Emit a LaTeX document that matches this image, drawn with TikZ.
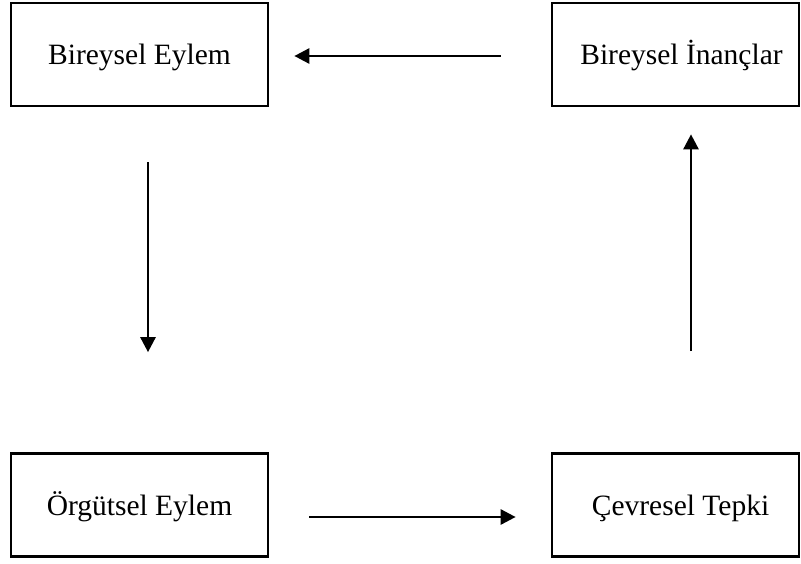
\documentclass[tikz,border=0pt]{standalone}
\usepackage{fontspec}
\setmainfont{Liberation Serif}
\usetikzlibrary{arrows.meta}
\begin{document}
\begin{tikzpicture}[x=1pt,y=-1pt,
  box/.style={draw,line width=2.7pt,minimum height=103pt,inner sep=0pt,text height=20pt,text depth=0pt,font=\fontsize{29.5}{34}\selectfont},
  arr/.style={line width=2.7pt,-{Triangle[length=15pt,width=15pt]}}]
\useasboundingbox (0,0) rectangle (801,563);
\node[box,minimum width=257pt] (TL) at (139.5,54.5) {Bireysel Eylem};
\node[box,minimum width=247pt] (TR) at (675.5,54.5) {\hspace*{12pt}Bireysel İnançlar};
\node[box,minimum width=257pt] (BL) at (139.5,505) {Örgütsel Eylem};
\node[box,minimum width=247pt] (BR) at (675.5,505) {\hspace*{10pt}Çevresel Tepki};
\draw[arr,shorten <=50pt,shorten >=25pt] ([yshift=-1.5pt]TR.west) -- ([yshift=-1.5pt]TL.east);
\draw[arr,shorten <=55pt,shorten >=100pt] ([xshift=8.5pt]TL.south) -- ([xshift=8.5pt]BL.north);
\draw[arr,shorten <=40pt,shorten >=35pt] ([yshift=-12pt]BL.east) -- ([yshift=-12pt]BR.west);
\draw[arr,shorten <=101pt,shorten >=27pt] ([xshift=15.5pt]BR.north) -- ([xshift=15.5pt]TR.south);
\end{tikzpicture}
\end{document}
